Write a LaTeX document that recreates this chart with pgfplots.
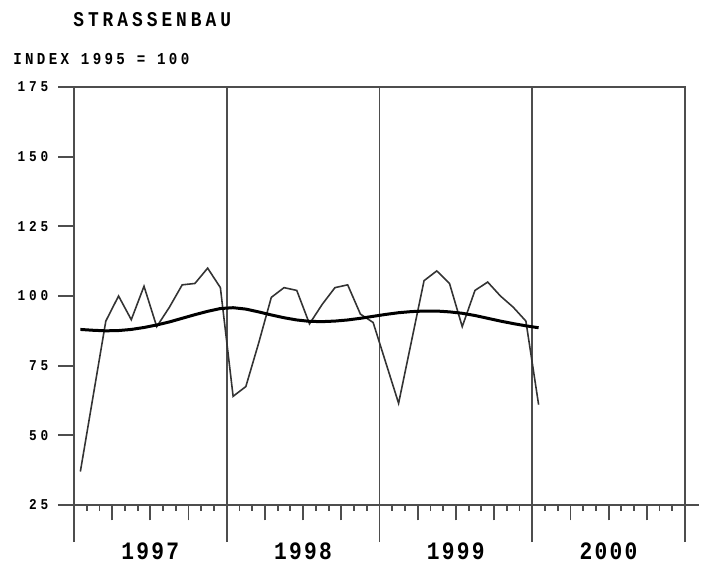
\documentclass[border=0pt]{standalone}
\usepackage{fontspec}
\setmainfont{Liberation Sans}
\newfontfamily\pf{Liberation Mono}[FakeStretch=0.85]
\usepackage{pgfplots}
\pgfplotsset{compat=1.18}
\definecolor{axgray}{HTML}{4D4D4D}
\definecolor{linegray}{HTML}{333333}

\begin{document}
\begin{tikzpicture}
\useasboundingbox (-44.4pt,-36.6pt) rectangle (379.2pt,303pt);
\begin{axis}[
    at={(0,0)}, anchor=south west,
    scale only axis, width=366.6pt, height=250.8pt,
    xmin=0, xmax=48, ymin=25, ymax=175,
    axis line style={axgray, line width=1.1pt},
    ytick={25,50,...,175},
    xtick={3,6,9,15,18,21,27,30,33,39,42,45},
    xticklabels={,1997,,,1998,,,1999,,,2000,},
    minor xtick={1,2,4,5,7,8,10,11,13,14,16,17,19,20,22,23,25,26,28,29,31,32,34,35,37,38,40,41,43,44,46,47},
    extra x ticks={0,12,24,36,48},
    extra x tick labels={},
    extra x tick style={grid=major, major tick length=22.2pt},
    tick align=outside, tick pos=left,
    major tick length=9.3pt, minor tick length=3.6pt,
    every tick/.style={axgray, line width=1.1pt},
    major grid style={axgray, line width=1.1pt},
    /pgf/number format/assume math mode=true,
    yticklabel style={font=\pf\bfseries\fontsize{9}{9}\selectfont\addfontfeature{LetterSpace=26}, xshift=-2.6pt},
    xticklabel style={font=\pf\bfseries\fontsize{15}{15}\selectfont\addfontfeature{LetterSpace=9}, yshift=-10pt},
  ]
  % monthly index, Jan 1997 - Jan 2000
  \addplot[linegray, line width=0.95pt] coordinates {
    (0.5,37) (1.5,64) (2.5,91) (3.5,100) (4.5,91.5) (5.5,103.5)
    (6.5,89) (7.5,96) (8.5,104) (9.5,104.5) (10.5,110) (11.5,103)
    (12.5,64) (13.5,67.5) (14.5,83) (15.5,99.5) (16.5,103) (17.5,102)
    (18.5,90) (19.5,97) (20.5,103) (21.5,104) (22.5,93.5) (23.5,90.5)
    (24.5,76) (25.5,61.5) (26.5,83.5) (27.5,105.5) (28.5,109) (29.5,104.5)
    (30.5,89) (31.5,102) (32.5,105) (33.5,100) (34.5,96) (35.5,91)
    (36.5,61)};
  % trend
  \addplot[black, line width=1.8pt] coordinates {
    (0.5,88) (1.5,87.7) (2.5,87.5) (3.5,87.6) (4.5,88) (5.5,88.7)
    (6.5,89.6) (7.5,90.7) (8.5,92) (9.5,93.3) (10.5,94.5) (11.5,95.5)
    (12.5,95.8) (13.5,95.3) (14.5,94.3) (15.5,93.2) (16.5,92.2) (17.5,91.4)
    (18.5,90.9) (19.5,90.8) (20.5,91) (21.5,91.4) (22.5,92) (23.5,92.7)
    (24.5,93.4) (25.5,94) (26.5,94.4) (27.5,94.6) (28.5,94.6) (29.5,94.3)
    (30.5,93.8) (31.5,93) (32.5,92) (33.5,91) (34.5,90.1) (35.5,89.3)
    (36.5,88.6)};
\end{axis}
\draw[axgray, line width=1.1pt] (-9.6pt,0) -- (375pt,0);
\node[anchor=west, inner sep=0pt, font=\pf\bfseries\fontsize{12.6}{13}\selectfont\addfontfeature{LetterSpace=19}] at (-0.6pt,291pt) {STRASSENBAU};
\node[anchor=west, inner sep=0pt, font=\pf\bfseries\fontsize{10}{11}\selectfont\addfontfeature{LetterSpace=20}] at (-36.6pt,267.6pt) {INDEX 1995 = 100};
\end{tikzpicture}
\end{document}
